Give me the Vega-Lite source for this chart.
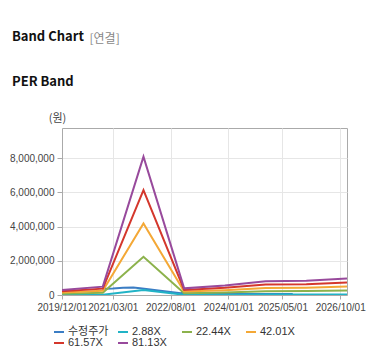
{
  "$schema": "https://vega.github.io/schema/vega-lite/v6.json",
  "width": 285,
  "height": 167,
  "autosize": "none",
  "padding": {"left": 62, "top": 128, "right": 33, "bottom": 69},
  "background": "white",
  "title": {
    "text": "Band Chart",
    "subtitle": "PER Band",
    "anchor": "start",
    "frame": "group",
    "dx": -50,
    "offset": -57,
    "font": "Noto Sans CJK KR",
    "fontSize": 13,
    "fontWeight": "bold",
    "color": "#111111",
    "subtitleFont": "Noto Sans CJK KR",
    "subtitleFontSize": 13,
    "subtitleFontWeight": "bold",
    "subtitleColor": "#111111",
    "subtitlePadding": 32
  },
  "data": {
    "values": [
      {"date": "2020-12-01T00:00:00", "series": "수정주가", "value": 360000},
      {"date": "2021-03-01T00:00:00", "series": "수정주가", "value": 380000},
      {"date": "2021-06-01T00:00:00", "series": "수정주가", "value": 420000},
      {"date": "2021-09-01T00:00:00", "series": "수정주가", "value": 440000},
      {"date": "2021-11-01T00:00:00", "series": "수정주가", "value": 400000},
      {"date": "2022-02-01T00:00:00", "series": "수정주가", "value": 320000},
      {"date": "2022-05-01T00:00:00", "series": "수정주가", "value": 250000},
      {"date": "2022-08-01T00:00:00", "series": "수정주가", "value": 180000},
      {"date": "2022-11-01T00:00:00", "series": "수정주가", "value": 110000},
      {"date": "2023-03-01T00:00:00", "series": "수정주가", "value": 90000},
      {"date": "2023-09-01T00:00:00", "series": "수정주가", "value": 80000},
      {"date": "2024-03-01T00:00:00", "series": "수정주가", "value": 70000},
      {"date": "2024-09-01T00:00:00", "series": "수정주가", "value": 65000},
      {"date": "2025-03-01T00:00:00", "series": "수정주가", "value": 60000},
      {"date": "2025-08-01T00:00:00", "series": "수정주가", "value": 60000},

      {"date": "2019-12-01T00:00:00", "series": "2.88X", "value": 10295},
      {"date": "2020-12-01T00:00:00", "series": "2.88X", "value": 17394},
      {"date": "2021-12-01T00:00:00", "series": "2.88X", "value": 287182},
      {"date": "2022-12-01T00:00:00", "series": "2.88X", "value": 13844},
      {"date": "2023-12-01T00:00:00", "series": "2.88X", "value": 19524},
      {"date": "2024-12-01T00:00:00", "series": "2.88X", "value": 28400},
      {"date": "2025-12-01T00:00:00", "series": "2.88X", "value": 29463},
      {"date": "2026-12-01T00:00:00", "series": "2.88X", "value": 34079},

      {"date": "2019-12-01T00:00:00", "series": "22.44X", "value": 80212},
      {"date": "2020-12-01T00:00:00", "series": "22.44X", "value": 135531},
      {"date": "2021-12-01T00:00:00", "series": "22.44X", "value": 2237627},
      {"date": "2022-12-01T00:00:00", "series": "22.44X", "value": 107869},
      {"date": "2023-12-01T00:00:00", "series": "22.44X", "value": 152121},
      {"date": "2024-12-01T00:00:00", "series": "22.44X", "value": 221281},
      {"date": "2025-12-01T00:00:00", "series": "22.44X", "value": 229561},
      {"date": "2026-12-01T00:00:00", "series": "22.44X", "value": 265533},

      {"date": "2019-12-01T00:00:00", "series": "42.01X", "value": 150165},
      {"date": "2020-12-01T00:00:00", "series": "42.01X", "value": 253728},
      {"date": "2021-12-01T00:00:00", "series": "42.01X", "value": 4189069},
      {"date": "2022-12-01T00:00:00", "series": "42.01X", "value": 201942},
      {"date": "2023-12-01T00:00:00", "series": "42.01X", "value": 284786},
      {"date": "2024-12-01T00:00:00", "series": "42.01X", "value": 414261},
      {"date": "2025-12-01T00:00:00", "series": "42.01X", "value": 429762},
      {"date": "2026-12-01T00:00:00", "series": "42.01X", "value": 497104},

      {"date": "2019-12-01T00:00:00", "series": "61.57X", "value": 220082},
      {"date": "2020-12-01T00:00:00", "series": "61.57X", "value": 371865},
      {"date": "2021-12-01T00:00:00", "series": "61.57X", "value": 6139514},
      {"date": "2022-12-01T00:00:00", "series": "61.57X", "value": 295967},
      {"date": "2023-12-01T00:00:00", "series": "61.57X", "value": 417383},
      {"date": "2024-12-01T00:00:00", "series": "61.57X", "value": 607142},
      {"date": "2025-12-01T00:00:00", "series": "61.57X", "value": 629861},
      {"date": "2026-12-01T00:00:00", "series": "61.57X", "value": 728558},

      {"date": "2019-12-01T00:00:00", "series": "81.13X", "value": 290000},
      {"date": "2020-12-01T00:00:00", "series": "81.13X", "value": 490000},
      {"date": "2021-12-01T00:00:00", "series": "81.13X", "value": 8090000},
      {"date": "2022-12-01T00:00:00", "series": "81.13X", "value": 390000},
      {"date": "2023-12-01T00:00:00", "series": "81.13X", "value": 550000},
      {"date": "2024-12-01T00:00:00", "series": "81.13X", "value": 800000},
      {"date": "2025-12-01T00:00:00", "series": "81.13X", "value": 830000},
      {"date": "2026-12-01T00:00:00", "series": "81.13X", "value": 960000}
    ]
  },
  "mark": {"type": "line", "strokeWidth": 2, "clip": true},
  "encoding": {
    "x": {
      "field": "date",
      "type": "temporal",
      "scale": {"domain": [{"year": 2019, "month": 12, "date": 1}, {"year": 2026, "month": 12, "date": 1}]},
      "axis": {
        "values": [
          {"year": 2019, "month": 12, "date": 1},
          {"year": 2021, "month": 3, "date": 1},
          {"year": 2022, "month": 8, "date": 1},
          {"year": 2024, "month": 1, "date": 1},
          {"year": 2025, "month": 5, "date": 1},
          {"year": 2026, "month": 10, "date": 1}
        ],
        "format": "%Y/%m/%d",
        "labelFont": "Liberation Sans",
        "labelFontSize": 10,
        "labelColor": "#444444",
        "labelPadding": 3,
        "labelOverlap": false,
        "labelFlush": false,
        "tickSize": 4,
        "tickColor": "#aaaaaa",
        "domainColor": "#aaaaaa",
        "gridColor": "#e6e6e6",
        "title": "[연결]",
        "titleFont": "Noto Sans CJK KR",
        "titleFontSize": 12,
        "titleFontWeight": "normal",
        "titleColor": "#888888",
        "titleAlign": "left",
        "titleBaseline": "middle",
        "titleAnchor": "start",
        "titleX": 27,
        "titleY": -257
      }
    },
    "y": {
      "field": "value",
      "type": "quantitative",
      "scale": {"domain": [0, 9770000], "nice": false},
      "axis": {
        "values": [0, 2000000, 4000000, 6000000, 8000000],
        "format": ",d",
        "labelFont": "Liberation Sans",
        "labelFontSize": 10,
        "labelColor": "#444444",
        "labelPadding": 3,
        "tickSize": 5,
        "tickColor": "#aaaaaa",
        "domainColor": "#aaaaaa",
        "gridColor": "#e6e6e6",
        "title": "(원)",
        "titleFont": "Noto Sans CJK KR",
        "titleFontSize": 11,
        "titleFontWeight": "normal",
        "titleColor": "#444444",
        "titleAngle": 0,
        "titleAlign": "center",
        "titleBaseline": "middle",
        "titleX": -5,
        "titleY": -10
      }
    },
    "color": {
      "field": "series",
      "type": "nominal",
      "scale": {
        "domain": ["수정주가", "2.88X", "22.44X", "42.01X", "61.57X", "81.13X"],
        "range": ["#3b7dc4", "#21b3c6", "#8cb24c", "#f4a836", "#d4372c", "#984a9c"]
      },
      "legend": {
        "orient": "none",
        "direction": "horizontal",
        "legendX": -9,
        "legendY": 198,
        "columns": 4,
        "gridAlign": "all",
        "columnPadding": 5,
        "rowPadding": 0,
        "title": null,
        "symbolType": "stroke",
        "symbolSize": 100,
        "symbolStrokeWidth": 2,
        "labelFont": "Liberation Sans, Noto Sans CJK KR",
        "labelFontSize": 11,
        "labelColor": "#333333",
        "labelOffset": 3
      }
    }
  },
  "config": {"view": {"stroke": "#aaaaaa"}}
}
